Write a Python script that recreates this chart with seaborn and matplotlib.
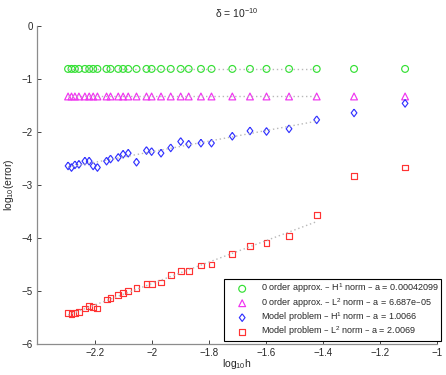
import numpy as np
import seaborn as sns
import matplotlib
matplotlib.use("Agg")
from matplotlib import pyplot as plt

# log10 of mesh size
log_h = [-2.295, -2.283, -2.271, -2.257, -2.236, -2.221, -2.207, -2.192,
         -2.160, -2.146, -2.119, -2.102, -2.084, -2.055, -2.020, -2.002,
         -1.969, -1.935, -1.900, -1.872, -1.829, -1.792, -1.719, -1.657,
         -1.599, -1.520, -1.423, -1.292, -1.113]

err_h1_zero = [-0.81] * 29
err_l2_zero = [-1.33] * 29
err_h1_model = [-2.64, -2.67, -2.62, -2.61, -2.55, -2.55, -2.64, -2.67,
                -2.55, -2.51, -2.48, -2.42, -2.40, -2.57, -2.35, -2.37,
                -2.40, -2.30, -2.18, -2.23, -2.21, -2.21, -2.08, -1.98,
                -1.99, -1.94, -1.77, -1.64, -1.46]
err_l2_model = [-5.42, -5.43, -5.41, -5.40, -5.33, -5.28, -5.31, -5.33,
                -5.16, -5.13, -5.07, -5.04, -5.00, -4.95, -4.87, -4.86,
                -4.84, -4.70, -4.62, -4.63, -4.52, -4.50, -4.31, -4.15,
                -4.09, -3.96, -3.57, -2.83, -2.67]

labels = ["0 order approx. \u2013 H$^1$ norm \u2013 a = 0.00042099",
          "0 order approx. \u2013 L$^2$ norm \u2013 a = 6.687e\u201305",
          "Model problem \u2013 H$^1$ norm \u2013 a = 1.0066",
          "Model problem \u2013 L$^2$ norm \u2013 a = 2.0069"]
colors = ["#33e033", "#f033f0", "#3333ff", "#ff3333"]
diamond = [(0, 1), (0.75, 0), (0, -1), (-0.75, 0), (0, 1)]
markers = ["o", "^", diamond, "s"]
sizes = [24, 24, 30, 18]

xticks = [-2.2, -2, -1.8, -1.6, -1.4, -1.2, -1]
xticklabels = ["\u22122.2", "\u22122", "\u22121.8", "\u22121.6", "\u22121.4", "\u22121.2", "\u22121"]
yticks = [0, -1, -2, -3, -4, -5, -6]
yticklabels = ["0", "\u22121", "\u22122", "\u22123", "\u22124", "\u22125", "\u22126"]

n_fit = 27  # fit uses the fine meshes only

sns.set_theme(style="ticks")
plt.rcParams["font.family"] = ["Liberation Sans", "DejaVu Sans"]
plt.rcParams["mathtext.default"] = "regular"
plt.rcParams["font.size"] = 7

fig = plt.figure(figsize=(4.46, 3.75), dpi=100)
ax = fig.add_axes([0.0823, 0.0827, 0.8982, 0.848])

series = [err_h1_zero, err_l2_zero, err_h1_model, err_l2_model]
x = np.array(log_h)
for ys in series:
    ys = np.array(ys)
    p = np.polyfit(x[:n_fit], ys[:n_fit], 1)
    sns.lineplot(x=x[:n_fit], y=np.polyval(p, x[:n_fit]), ax=ax, color="0.72",
                 linestyle=(0, (1, 2)), linewidth=1.0)

for ys, c, m, s, lab in zip(series, colors, markers, sizes, labels):
    sns.scatterplot(x=log_h, y=ys, ax=ax, marker=m, s=s, color=c,
                    facecolor="none", edgecolor=c, linewidth=0.85, label=lab)

ax.set_xlim(-2.405, -1)
ax.set_ylim(-6, 0)
ax.set_xticks(xticks)
ax.set_xticklabels(xticklabels)
ax.set_yticks(yticks)
ax.set_yticklabels(yticklabels)
ax.tick_params(direction="in", length=3, width=0.6, colors="0.15", labelsize=7, pad=3)
for side in ["top", "right"]:
    ax.spines[side].set_visible(False)
for side in ["left", "bottom"]:
    ax.spines[side].set_color("0.55")
    ax.spines[side].set_linewidth(0.9)

ax.set_title("\u03b4 = 10$^{\u221210}$", fontsize=7.5, pad=6)
ax.set_xlabel("log$_{10}$h", fontsize=7.5, labelpad=-1)
ax.set_ylabel("log$_{10}$(error)", fontsize=7.5, labelpad=4)

leg = ax.legend(loc="lower right", bbox_to_anchor=(1.0085, 0.0104), fontsize=6.5,
                frameon=True, fancybox=False, edgecolor="black", framealpha=1,
                borderaxespad=0, handlelength=3.6, handletextpad=0.25,
                labelspacing=0.08, borderpad=0.25)
leg.get_frame().set_linewidth(0.8)

fig.savefig("out.png", dpi=100)
